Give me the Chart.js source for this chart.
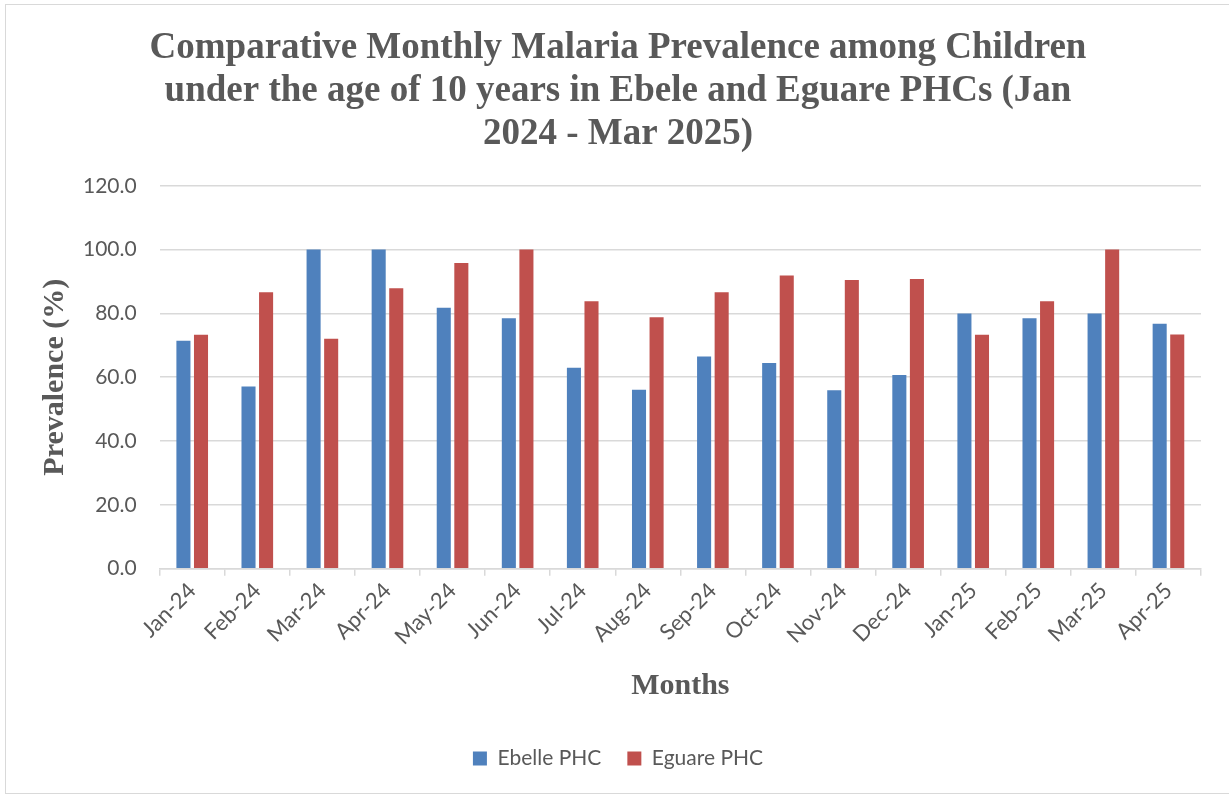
<!DOCTYPE html>
<html lang="en">
<head>
    <meta charset="UTF-8">
    <title>Malaria Prevalence Ebele vs Eguare</title>
    <script src="https://cdn.jsdelivr.net/npm/chart.js"></script>
    <style>
        body { margin: 0; background: #ffffff; }
        .frame { position: absolute; left: 5px; top: 4px; width: 1226px; height: 790px; border: 1px solid #d9d9d9; box-sizing: border-box; pointer-events: none; }
        #wrap { position: absolute; left: 0; top: 0; width: 1229px; height: 796px; }
    </style>
</head>
<body>
    <div id="wrap"><canvas id="malariaChart"></canvas></div>
    <div class="frame"></div>

    <script>
        const months = ['Jan-24', 'Feb-24', 'Mar-24', 'Apr-24', 'May-24', 'Jun-24', 'Jul-24', 'Aug-24',
                        'Sep-24', 'Oct-24', 'Nov-24', 'Dec-24', 'Jan-25', 'Feb-25', 'Mar-25', 'Apr-25'];
        const ebelle = [71.4, 57.1, 100, 100, 81.8, 78.5, 63.0, 56.1, 66.5, 64.5, 55.9, 60.7, 80.0, 78.5, 80.0, 76.8];
        const eguare = [73.3, 86.6, 72.1, 87.9, 95.8, 100, 83.8, 78.8, 86.6, 91.9, 90.5, 90.8, 73.3, 83.8, 100, 73.4];
        const titleLines = ['Comparative Monthly Malaria Prevalence among Children',
                            'under the age of 10 years in Ebele and Eguare PHCs (Jan',
                            '2024 - Mar 2025)'];

        const grey = '#595959';
        const gridGrey = '#d9d9d9';

        new Chart(document.getElementById('malariaChart').getContext('2d'), {
            type: 'bar',
            data: {
                labels: months,
                datasets: [
                    { label: 'Ebelle PHC', data: ebelle, backgroundColor: '#4f81bd',
                      barPercentage: 0.8, categoryPercentage: 0.54 },
                    { label: 'Eguare PHC', data: eguare, backgroundColor: '#c0504d',
                      barPercentage: 0.8, categoryPercentage: 0.54 }
                ]
            },
            options: {
                responsive: true,
                maintainAspectRatio: false,
                animation: false,
                layout: { padding: { left: 35, right: 28, top: 27, bottom: 17 } },
                plugins: {
                    title: {
                        display: true,
                        text: titleLines,
                        color: grey,
                        font: { family: 'Liberation Serif', size: 37, weight: 'bold', lineHeight: 1.16 },
                        padding: { top: 0, bottom: 30 }
                    },
                    legend: {
                        position: 'bottom',
                        labels: {
                            color: grey,
                            font: { family: 'Lato', size: 21 },
                            boxWidth: 14,
                            boxHeight: 14,
                            padding: 26
                        }
                    },
                    tooltip: { enabled: false }
                },
                scales: {
                    x: {
                        grid: { display: true, drawOnChartArea: false, drawTicks: true, tickLength: 7,
                                color: gridGrey, lineWidth: 1.5, offset: true },
                        border: { display: true, color: gridGrey, width: 1.5 },
                        ticks: { color: grey, font: { family: 'Lato', size: 22 },
                                 maxRotation: 45, minRotation: 45, padding: 2 },
                        title: { display: true, text: 'Months', color: grey,
                                 font: { family: 'Liberation Serif', size: 30, weight: 'bold' },
                                 padding: { top: 16, bottom: 18 } }
                    },
                    y: {
                        min: 0,
                        max: 120,
                        ticks: { stepSize: 20, color: grey, font: { family: 'Lato', size: 21 },
                                 padding: 23, callback: v => v.toFixed(1) },
                        grid: { color: gridGrey, lineWidth: 1.5, drawTicks: false },
                        border: { display: false },
                        title: { display: true, text: 'Prevalence (%)', color: grey,
                                 font: { family: 'Liberation Serif', size: 30, weight: 'bold' },
                                 padding: { top: 2, bottom: -13 } }
                    }
                }
            }
        });
    </script>
</body>
</html>
